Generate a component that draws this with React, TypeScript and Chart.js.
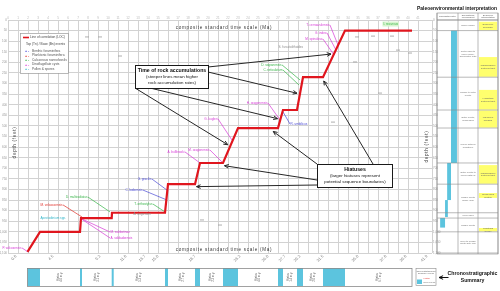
import React, { useEffect, useRef } from "react";
import { Chart, registerables } from "chart.js";

Chart.register(...registerables);

const FONT = 'Arial, "Liberation Sans", Helvetica, sans-serif';

// ---------- axes ----------
const AGE_MIN = 0;
const AGE_MAX = 42.4;
const AGE_STEP = 1;
const DEPTH_MIN = 0;
const DEPTH_MAX = 1100;
const DEPTH_STEP = 50;
const X_TITLE = "composite standard time scale (Ma)";
const Y_TITLE = "depth (feet)";

// slanted boundary ticks along the bottom axis
const boundaryAges = [0.8, 4.5, 9.2, 11.8, 13.7, 15.0, 18.7, 23.2, 26.0, 27.7, 29.2, 31.5, 35.0, 37.8, 39.8, 41.9];
const boundaryLabels = ["0.8", "4.5", "9.2", "11.8", "13.7", "15.0", "18.7", "23.2", "26.0", "27.7", "29.2", "31.5", "35.0", "37.8", "39.8", "41.9"];

// ---------- line of correlation ----------
const locAge = [1.95, 3.2, 7.2, 7.3, 10.37, 10.4, 15.7, 16.0, 18.7, 19.2, 21.5, 23.0, 27.0, 27.5, 28.9, 29.5, 31.5, 33.7, 40.4];
const locDepth = [1095, 1000, 1000, 935, 935, 910, 910, 775, 775, 675, 675, 510, 510, 425, 425, 270, 270, 50, 50];

// ---------- fossil groups (legend) ----------
const groupNames = ["Benthic foraminifera", "Planktonic foraminifera", "Calcareous nannofossils", "Dinoflagellate cysts", "Pollen & spores", "Other events"];
const groupColors = ["#4b4bd6", "#e0302a", "#38b449", "#d63ad6", "#33b5c9", "#8c8c8c"];

// ---------- biostratigraphic events ----------
const eventNames = ["P. wilcoxensis", "Apectodinium spp.", "M. velascoensis", "D. multiradiatus", "M. subbotinae", "A. soldadoensis", "T. orthostylus", "A. augustum", "G. gracilis", "C. lodoensis", "A. bullbrooki", "M. aragonensis", "G. kugleri", "H. aragonensis", "R. umbilicus", "T. cerroazulensis", "G. index", "M. spinulosa", "D. saipanensis", "C. reticulatum", "S. furcatolithoides", "I. recurvus"];
const eventGroup = [3, 4, 1, 2, 3, 3, 2, 5, 0, 0, 3, 3, 3, 3, 0, 3, 3, 3, 2, 2, 5, 2];
const eventLabelAge = [1.4, 3.2, 5.5, 8.0, 10.2, 10.2, 14.5, 12.5, 14.4, 13.5, 17.7, 20.2, 21.0, 26.0, 28.2, 32.2, 31.9, 31.5, 27.4, 27.5, 27.0, 37.5];
const eventLabelDepth = [1076, 935, 873, 836, 1001, 1029, 869, 916, 751, 803, 623, 614, 467, 392, 491, 24, 61, 90, 212, 236, 127, 19];
const eventTargetAge = [2.0, 3.2, 7.4, 10.2, 7.2, 7.2, 15.7, 12.5, 15.9, 15.9, 19.2, 21.5, 22.4, 27.2, 27.5, 33.0, 32.8, 32.6, 29.2, 29.1, 27.0, 37.5];
const eventTargetDepth = [1095, 935, 930, 906, 935, 935, 906, 916, 803, 850, 675, 675, 567, 472, 434, 118, 142, 165, 283, 307, 127, 19];
const eventSide = ["left", "right", "left", "left", "right", "right", "left", "right", "left", "left", "left", "left", "left", "left", "right", "left", "left", "left", "left", "left", "right", "right"];
const highlightedEvent = 21;

// minor / unassigned event picks
const minorAge = [34.9, 36.5, 38.4, 34.7, 39.0, 40.2, 37.2, 32.5, 7.9, 9.2, 11.2, 19.4, 21.2];
const minorDepth = [80, 76, 76, 198, 142, 156, 345, 482, 80, 80, 170, 944, 968];

// ---------- paleoenvironmental table ----------
const envBoundaries = [0, 50, 270, 425, 510, 675, 775, 910, 935, 1000, 1100];
const envNotes = ["Shelf margin", "Outer shelf to upper slope, glauconitic marl", "Middle to outer neritic", "Outer neritic, condensed", "Upper bathyal mudstone", "Outer neritic to upper bathyal", "Middle neritic sandy marl", "Inner shelf", "Middle neritic", "Inner to middle neritic silty clay"];
const bathyTop = [50, 675, 850, 935];
const bathyBottom = [675, 850, 930, 980];
const bathyShallow = [200, 145, 115, 45];
const bathyDeep = [285, 200, 155, 115];
const BATHY_MAX = 300;
const highlightTop = [8, 175, 330, 427, 685, 817, 982];
const highlightBottom = [48, 268, 423, 508, 773, 840, 998];
const highlightText = ["Sequence boundary", "Transgressive systems tract", "Highstand systems tract", "Maximum flooding", "Transgressive systems tract", "Condensed section", "Lowstand wedge"];
const tableHeaders = ["Paleobathymetry", "Depositional environment", "Sequence interpretation"];

function drawArrow(ctx: CanvasRenderingContext2D, x1: number, y1: number, x2: number, y2: number) {
  const a = Math.atan2(y2 - y1, x2 - x1);
  const ex = x2 - Math.cos(a) * 1.5;
  const ey = y2 - Math.sin(a) * 1.5;
  ctx.beginPath();
  ctx.moveTo(x1, y1);
  ctx.lineTo(ex, ey);
  ctx.stroke();
  const L = 4.5, w = 0.42;
  ctx.beginPath();
  ctx.moveTo(ex - L * Math.cos(a - w), ey - L * Math.sin(a - w));
  ctx.lineTo(ex, ey);
  ctx.lineTo(ex - L * Math.cos(a + w), ey - L * Math.sin(a + w));
  ctx.stroke();
}

function wrap(ctx: CanvasRenderingContext2D, text: string, maxW: number): string[] {
  const words = text.split(" ");
  const lines: string[] = [];
  let cur = "";
  words.forEach((w) => {
    const t = cur ? cur + " " + w : w;
    if (ctx.measureText(t).width > maxW && cur) {
      lines.push(cur);
      cur = w;
    } else cur = t;
  });
  if (cur) lines.push(cur);
  return lines;
}

const overlayPlugin = {
  id: "overlay",
  afterDraw(chart: any) {
    const { ctx, chartArea: ca, scales } = chart;
    const X = (v: number) => scales.x.getPixelForValue(v);
    const Y = (v: number) => scales.y.getPixelForValue(v);
    ctx.save();

    // ---- axis titles drawn inside the plot ----
    ctx.fillStyle = "#3a3a3a";
    ctx.font = `4.6px ${FONT}`;
    (ctx as any).letterSpacing = "0.7px";
    ctx.textAlign = "center";
    ctx.textBaseline = "middle";
    ctx.fillText(X_TITLE, X(21.6), ca.top + 8);
    ctx.fillText(X_TITLE, X(21.6), ca.bottom - 3);
    const depthPos: [number, number][] = [[ca.left + 7, Y(578)], [ca.right - 5, Y(597)]];
    depthPos.forEach(([x, y]) => {
      ctx.save();
      ctx.translate(x, y);
      ctx.rotate(-Math.PI / 2);
      ctx.fillText(Y_TITLE, 0, 0);
      ctx.restore();
    });
    (ctx as any).letterSpacing = "0px";

    // ---- event labels ----
    ctx.font = `3.1px ${FONT}`;
    ctx.textBaseline = "middle";
    eventNames.forEach((name, i) => {
      const x = X(eventLabelAge[i]);
      const y = Y(eventLabelDepth[i]);
      const left = eventSide[i] === "left";
      ctx.textAlign = left ? "right" : "left";
      const tx = left ? x - 0.5 : x + 0.5;
      if (i === highlightedEvent) {
        const w = ctx.measureText(name).width;
        ctx.fillStyle = "#d8f5d0";
        ctx.fillRect(tx - 1, y - 2.5, w + 2, 5);
      }
      ctx.fillStyle = groupColors[eventGroup[i]];
      ctx.fillText(name, tx, y);
    });

    // ---- legend ----
    const lx = ca.left + 12, ly = ca.top + 13, lw = 48, lh = 40;
    ctx.fillStyle = "#ffffff";
    ctx.fillRect(lx, ly, lw, lh);
    ctx.strokeStyle = "#9a9a9a";
    ctx.lineWidth = 0.7;
    ctx.strokeRect(lx + 0.5, ly + 0.5, lw, lh);
    ctx.strokeStyle = "#e0161e";
    ctx.lineWidth = 1.6;
    ctx.beginPath();
    ctx.moveTo(lx + 3, ly + 4.5);
    ctx.lineTo(lx + 9, ly + 4.5);
    ctx.stroke();
    ctx.textAlign = "left";
    ctx.font = `3.2px ${FONT}`;
    ctx.fillStyle = "#444";
    ctx.fillText("Line of correlation (LOC)", lx + 10, ly + 4.5);
    ctx.fillText("Top (Tn) / Base (Bn) events", lx + 6, ly + 11);
    for (let g = 0; g < 5; g++) {
      const yy = ly + 18 + g * 4.5;
      ctx.fillStyle = groupColors[g];
      ctx.font = `bold 3.6px ${FONT}`;
      ctx.fillText("+ -", lx + 5, yy);
      ctx.font = `3.2px ${FONT}`;
      ctx.fillStyle = "#555";
      ctx.fillText(groupNames[g], lx + 12, yy);
    }

    // ---- arrows ----
    ctx.strokeStyle = "#262626";
    ctx.lineWidth = 1;
    const accumSeg = [16, 14, 12, 10];
    const accumSrc: [number, number][] = [[208, 67], [208, 72], [150, 88], [135, 88]];
    accumSeg.forEach((s, k) => {
      const tx = (X(locAge[s]) + X(locAge[s + 1])) / 2 - 1.5;
      const ty = (Y(locDepth[s]) + Y(locDepth[s + 1])) / 2;
      drawArrow(ctx, accumSrc[k][0], accumSrc[k][1], tx, ty);
    });
    const hiatusSeg = [7, 9, 11, 15];
    const hiatusFrac = [1, 1, 0.85, 1];
    const hiatusSrc: [number, number][] = [[317, 185], [317, 180], [317, 164], [373, 164]];
    hiatusSeg.forEach((s, k) => {
      const a = locAge[s] + (locAge[s + 1] - locAge[s]) * hiatusFrac[k];
      drawArrow(ctx, hiatusSrc[k][0], hiatusSrc[k][1], X(a), Y(locDepth[s]) + 2.5);
    });

    // ---- annotation boxes ----
    const drawBox = (x: number, y: number, w: number, h: number, lines: string[]) => {
      ctx.fillStyle = "#ffffff";
      ctx.fillRect(x, y, w, h);
      ctx.strokeStyle = "#1a1a1a";
      ctx.lineWidth = 1;
      ctx.strokeRect(x + 0.5, y + 0.5, w, h);
      ctx.textAlign = "center";
      ctx.fillStyle = "#111";
      lines.forEach((t, i) => {
        ctx.font = i === 0 ? `bold 5.2px ${FONT}` : `4.4px ${FONT}`;
        ctx.fillText(t, x + w / 2 + 0.5, y + 6 + i * 5.8, w - 4);
      });
    };
    drawBox(135, 65, 73, 23, ["Time of rock accumulations", "(steeper lines mean higher", "rock accumulation rates)"]);
    drawBox(317, 164, 75, 23, ["Hiatuses", "(larger hiatuses represent", "potential sequence boundaries)"]);

    // ---- paleoenvironmental table ----
    const c0 = ca.right + 5, c1 = c0 + 21, c2 = c1 + 20, c3 = c2 + 20;
    const hTop = 13;
    ctx.fillStyle = "#111";
    ctx.textAlign = "center";
    ctx.font = `bold 5.6px ${FONT}`;
    ctx.fillText("Paleoenvironmental interpretation", 457, 8.5, 80);
    // bathymetry bars
    ctx.fillStyle = "#5cc4de";
    bathyTop.forEach((t, i) => {
      const xl = c0 + (bathyShallow[i] / BATHY_MAX) * (c1 - c0);
      const xr = c0 + (bathyDeep[i] / BATHY_MAX) * (c1 - c0);
      ctx.fillRect(xl, Y(t), xr - xl, Y(bathyBottom[i]) - Y(t));
    });
    // highlighted intervals
    highlightTop.forEach((t, i) => {
      const y0 = Y(t), y1 = Y(highlightBottom[i]);
      ctx.fillStyle = "#ffff6e";
      ctx.fillRect(c2 + 1, y0, c3 - c2 - 2, y1 - y0);
      ctx.fillStyle = "#666";
      ctx.font = `2.4px ${FONT}`;
      const ls = wrap(ctx, highlightText[i], c3 - c2 - 4);
      ls.forEach((l, j) => ctx.fillText(l, (c2 + c3) / 2, (y0 + y1) / 2 + (j - (ls.length - 1) / 2) * 2.8));
    });
    // environment notes
    ctx.font = `2.4px ${FONT}`;
    ctx.fillStyle = "#707070";
    envNotes.forEach((n, i) => {
      const y0 = Y(envBoundaries[i]), y1 = Y(envBoundaries[i + 1]);
      const ls = wrap(ctx, n, c2 - c1 - 3);
      ls.forEach((l, j) => ctx.fillText(l, (c1 + c2) / 2, (y0 + y1) / 2 + (j - (ls.length - 1) / 2) * 2.8));
    });
    // headers
    ctx.font = `2.3px ${FONT}`;
    ctx.fillStyle = "#555";
    const cols = [c0, c1, c2, c3];
    tableHeaders.forEach((h, i) => {
      const ls = wrap(ctx, h, cols[i + 1] - cols[i] - 2);
      ls.forEach((l, j) => ctx.fillText(l, (cols[i] + cols[i + 1]) / 2, (hTop + ca.top) / 2 + (j - (ls.length - 1) / 2) * 2.6));
    });
    // grid of table
    ctx.strokeStyle = "#8a8a8a";
    ctx.lineWidth = 0.6;
    ctx.strokeRect(c0, hTop, c3 - c0, Y(DEPTH_MAX) + 1 - hTop);
    cols.forEach((c) => {
      ctx.beginPath();
      ctx.moveTo(c, hTop);
      ctx.lineTo(c, Y(DEPTH_MAX) + 1);
      ctx.stroke();
    });
    ctx.beginPath();
    ctx.moveTo(c0, ca.top);
    ctx.lineTo(c3, ca.top);
    ctx.stroke();
    envBoundaries.forEach((d) => {
      ctx.beginPath();
      ctx.moveTo(c0, Y(d));
      ctx.lineTo(c3, Y(d));
      ctx.stroke();
    });

    // ---- chronostratigraphic summary bar ----
    const bTop = ca.bottom + 15, bBot = ca.bottom + 33;
    const bx0 = X(locAge[0]), bx1 = X(locAge[locAge.length - 1]);
    ctx.fillStyle = "#ffffff";
    ctx.fillRect(bx0, bTop, bx1 - bx0, bBot - bTop);
    for (let i = 0; i < locAge.length - 1; i++) {
      const xa = X(locAge[i]), xb = X(locAge[i + 1]);
      if (locDepth[i] !== locDepth[i + 1]) {
        ctx.fillStyle = "#5cc4de";
        const w = Math.max(xb - xa, 2);
        ctx.fillRect(xa, bTop, w, bBot - bTop);
      } else if (xb - xa > 8) {
        ctx.save();
        ctx.translate((xa + xb) / 2, (bTop + bBot) / 2);
        ctx.rotate(-Math.PI / 2);
        ctx.fillStyle = "#666";
        ctx.font = `2.8px ${FONT}`;
        ctx.textAlign = "center";
        ctx.fillText("Hiatus", 0, -1.6);
        ctx.fillText(`${(locAge[i + 1] - locAge[i]).toFixed(1)} m.y.`, 0, 1.6);
        ctx.restore();
      }
    }
    ctx.strokeStyle = "#8a8a8a";
    ctx.lineWidth = 0.8;
    ctx.strokeRect(bx0, bTop + 0.5, bx1 - bx0, bBot - bTop);

    // summary legend
    const gx = bx1 + 3.5, gy = bTop;
    ctx.fillStyle = "#fff";
    ctx.fillRect(gx, gy, 20, 17);
    ctx.strokeStyle = "#8a8a8a";
    ctx.lineWidth = 0.6;
    ctx.strokeRect(gx + 0.5, gy + 0.5, 20, 17);
    ctx.font = `2.2px ${FONT}`;
    ctx.fillStyle = "#666";
    ctx.textAlign = "center";
    ctx.fillText("Chronostratigraphic", gx + 10.5, gy + 3);
    ctx.fillText("summary legend", gx + 10.5, gy + 5.5);
    ctx.textAlign = "left";
    ctx.fillStyle = "#e0302a";
    ctx.fillText("Hiatus", gx + 8, gy + 10);
    ctx.fillStyle = "#5cc4de";
    ctx.fillRect(gx + 1.5, gy + 11.5, 5, 4.5);
    ctx.fillStyle = "#666";
    ctx.fillText("Rock record", gx + 8, gy + 14);
    ctx.strokeStyle = "#111";
    ctx.lineWidth = 1;
    drawArrow(ctx, gx + 33, gy + 9.5, gx + 22, gy + 9.5);
    ctx.fillStyle = "#111";
    ctx.font = `bold 5.2px ${FONT}`;
    ctx.textAlign = "center";
    ctx.fillText("Chronostratigraphic", gx + 57, gy + 5.5, 50);
    ctx.fillText("Summary", gx + 57, gy + 12.5);

    ctx.restore();
  },
};

export default function App() {
  const canvasRef = useRef<HTMLCanvasElement | null>(null);

  useEffect(() => {
    const canvas = canvasRef.current;
    if (!canvas) return;

    const datasets: any[] = [];
    datasets.push({
      label: "Line of correlation (LOC)",
      data: locAge.map((a, i) => ({ x: a, y: locDepth[i] })),
      showLine: true,
      borderColor: "#e0161e",
      borderWidth: 2.2,
      pointRadius: 0,
      order: 0,
    });
    eventNames.forEach((n, i) => {
      if (eventLabelAge[i] === eventTargetAge[i] && eventLabelDepth[i] === eventTargetDepth[i]) return;
      datasets.push({
        label: n,
        data: [
          { x: eventLabelAge[i], y: eventLabelDepth[i] },
          { x: eventTargetAge[i], y: eventTargetDepth[i] },
        ],
        showLine: true,
        borderColor: groupColors[eventGroup[i]],
        borderWidth: 0.7,
        pointRadius: 0,
        order: 2,
      });
    });
    datasets.push({
      label: "minor events",
      data: minorAge.map((a, i) => ({ x: a, y: minorDepth[i] })),
      showLine: false,
      pointStyle: "line",
      pointRadius: 2,
      borderColor: "#9a9a9a",
      borderWidth: 0.8,
      order: 3,
    });

    const chart = new Chart(canvas, {
      type: "scatter",
      data: { datasets },
      options: {
        animation: false,
        responsive: true,
        maintainAspectRatio: false,
        devicePixelRatio: 1,
        layout: { padding: 0 },
        plugins: {
          legend: { display: false },
          tooltip: { enabled: false },
          title: { display: false },
        },
        scales: {
          x: {
            type: "linear",
            position: "bottom",
            min: AGE_MIN,
            max: AGE_MAX,
            afterBuildTicks: (s: any) => {
              s.ticks = boundaryAges.map((v) => ({ value: v }));
            },
            ticks: {
              autoSkip: false,
              minRotation: 45,
              maxRotation: 45,
              padding: 1,
              color: "#7a7a7a",
              font: { size: 4, family: FONT },
              callback: (_v: any, i: number) => boundaryLabels[i],
            },
            grid: { display: false, drawTicks: false },
            border: { display: false },
            afterFit: (s: any) => {
              s.height = 38;
            },
          },
          xTop: {
            type: "linear",
            position: "top",
            min: AGE_MIN,
            max: AGE_MAX,
            ticks: {
              stepSize: AGE_STEP,
              autoSkip: false,
              maxRotation: 0,
              padding: 0,
              color: "#b8b8b8",
              font: { size: 3, family: FONT },
              callback: (v: any) => (Number.isInteger(v) ? String(v) : ""),
            },
            grid: { color: "#d2d2d2", lineWidth: 1, drawTicks: false },
            border: { display: false },
            afterFit: (s: any) => {
              s.height = 20;
            },
          },
          y: {
            type: "linear",
            position: "left",
            reverse: true,
            min: DEPTH_MIN,
            max: DEPTH_MAX,
            ticks: { stepSize: DEPTH_STEP, padding: 1, color: "#999", font: { size: 3, family: FONT } },
            grid: { color: "#d2d2d2", lineWidth: 1, drawTicks: false },
            border: { display: false },
            afterFit: (s: any) => {
              s.width = 8;
            },
          },
          y2: {
            type: "linear",
            position: "right",
            reverse: true,
            min: DEPTH_MIN,
            max: DEPTH_MAX,
            ticks: { stepSize: DEPTH_STEP, padding: 1, color: "#999", font: { size: 3, family: FONT } },
            grid: { display: false, drawTicks: false },
            border: { display: false },
            afterFit: (s: any) => {
              s.width = 68;
            },
          },
        },
      } as any,
      plugins: [overlayPlugin as any],
    });

    return () => chart.destroy();
  }, []);

  return (
    <div style={{ position: "absolute", left: 0, top: 0, width: 500, height: 291, background: "#fff" }}>
      <canvas ref={canvasRef} />
    </div>
  );
}
